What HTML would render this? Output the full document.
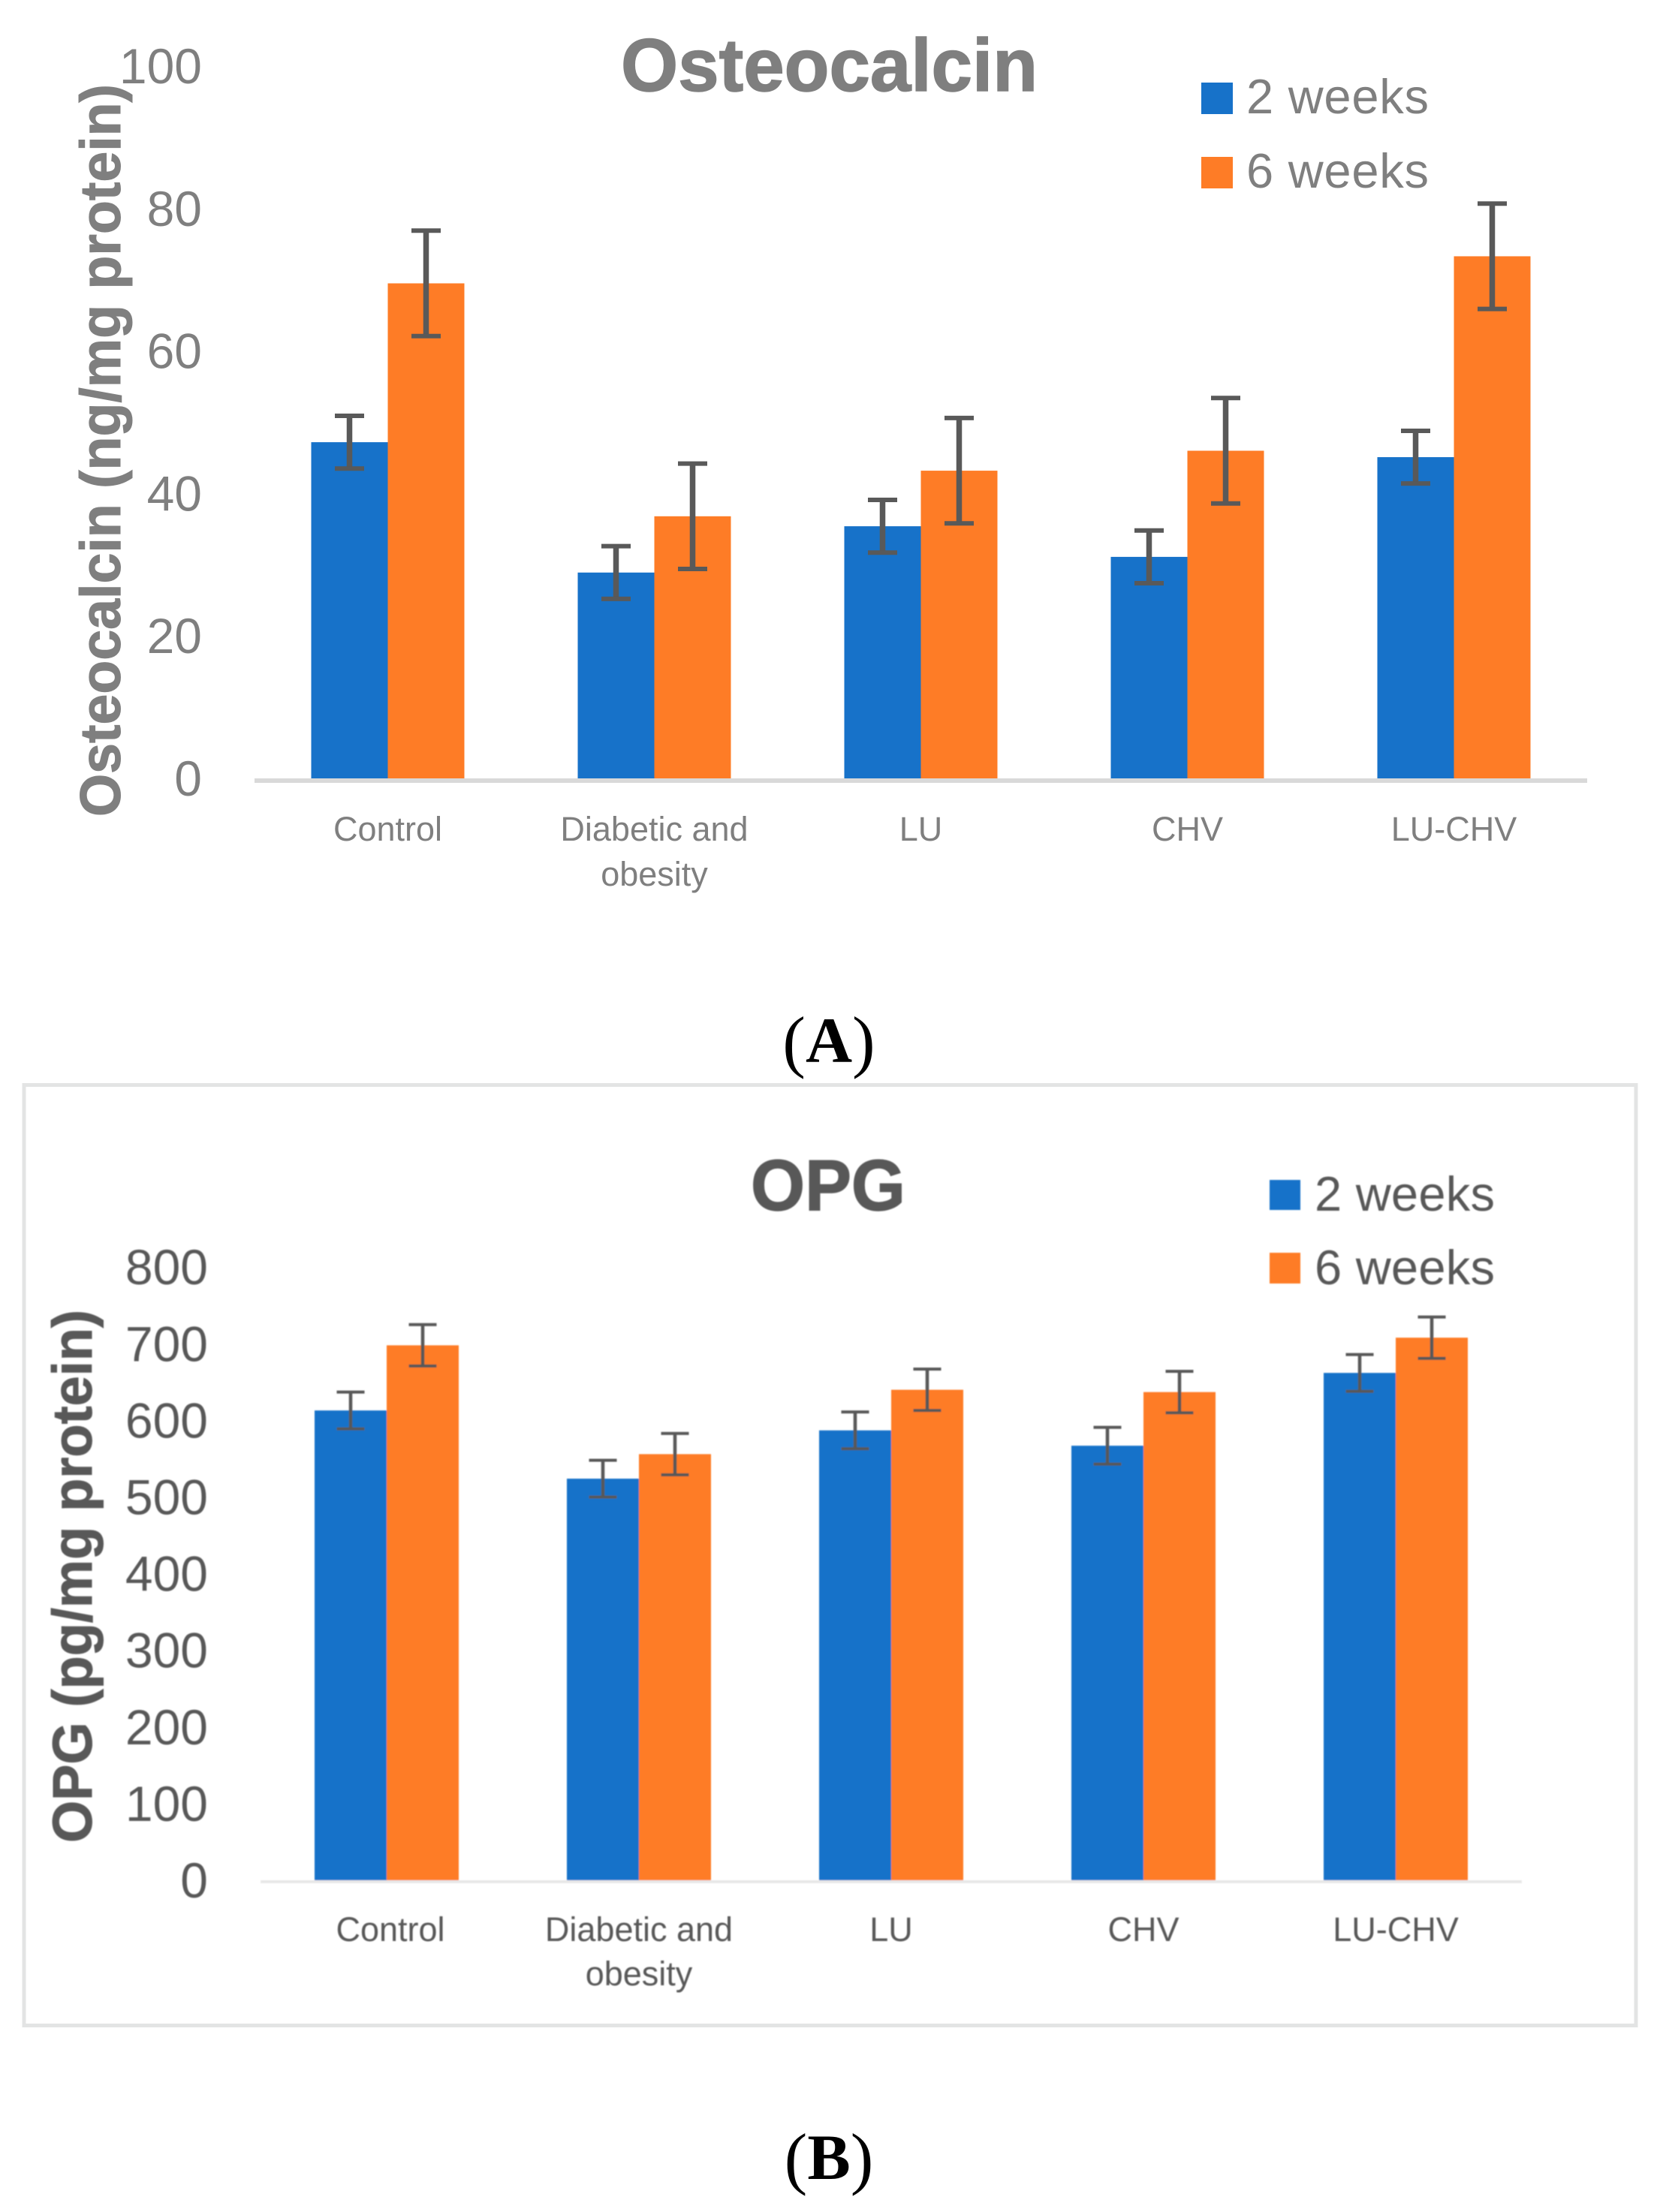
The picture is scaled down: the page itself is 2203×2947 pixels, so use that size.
<!DOCTYPE html>
<html lang="en">
<head>
<meta charset="utf-8">
<title>Osteocalcin and OPG bar charts</title>
<style>
html,body{margin:0;padding:0;background:#fff;width:2203px;height:2947px;overflow:hidden}
svg{display:block}
text{font-family:"Liberation Sans",sans-serif}
.cap{font-family:"Liberation Serif",serif;font-size:92px;fill:#000;text-anchor:middle}
</style>
</head>
<body>
<svg id="figure" xmlns="http://www.w3.org/2000/svg" width="2203" height="2947" viewBox="0 0 2203 2947">
  <defs><filter id="soft" x="-2%" y="-2%" width="104%" height="104%"><feGaussianBlur stdDeviation="0.8"/></filter></defs>
  <rect x="0" y="0" width="2203" height="2947" fill="#fff"/>
  <g id="chartA">
    <text x="827" y="121" font-size="99" font-weight="700" fill="#7f7f7f" stroke="#7f7f7f" stroke-width="1.5" textLength="555" lengthAdjust="spacingAndGlyphs">Osteocalcin</text>
    <text transform="translate(160 600) rotate(-90)" text-anchor="middle" font-size="76" font-weight="700" fill="#7f7f7f" stroke="#7f7f7f" stroke-width="1" textLength="976" lengthAdjust="spacingAndGlyphs">Osteocalcin (ng/mg protein)</text>
    <rect x="1600" y="110" width="42" height="42" fill="#1772c9"/>
    <text x="1660" y="151" font-size="65" fill="#7f7f7f" textLength="243" lengthAdjust="spacing">2 weeks</text>
    <rect x="1600" y="209" width="42" height="42" fill="#fe7c26"/>
    <text x="1660" y="250" font-size="65" fill="#7f7f7f" textLength="243" lengthAdjust="spacing">6 weeks</text>
  </g>
  <text class="cap" x="1104" y="1418">(<tspan font-weight="700" font-size="86" dy="-3">A</tspan><tspan dy="3">)</tspan></text>
  <rect x="32" y="1445.5" width="2147" height="1253" fill="none" stroke="#e3e4e4" stroke-width="5"/>
  <g id="chartB" filter="url(#soft)">
    <text x="1000" y="1612" font-size="96" font-weight="700" fill="#595959" stroke="#595959" stroke-width="1.5" textLength="206" lengthAdjust="spacingAndGlyphs">OPG</text>
    <text transform="translate(122 2100) rotate(-90)" text-anchor="middle" font-size="74" font-weight="700" fill="#595959" stroke="#595959" stroke-width="1" textLength="710" lengthAdjust="spacingAndGlyphs">OPG (pg/mg protein)</text>
    <rect x="1691" y="1572" width="41" height="40" fill="#1772c9"/>
    <text x="1751" y="1613" font-size="65" fill="#595959" textLength="240" lengthAdjust="spacing">2 weeks</text>
    <rect x="1691" y="1669" width="41" height="41" fill="#fe7c26"/>
    <text x="1751" y="1711" font-size="65" fill="#595959" textLength="240" lengthAdjust="spacing">6 weeks</text>
  </g>
  <text class="cap" x="1104" y="2906">(<tspan font-weight="700" font-size="86" dy="-3">B</tspan><tspan dy="3">)</tspan></text>
</svg>
<script>
const categoryLines = [["Control"], ["Diabetic and", "obesity"], ["LU"], ["CHV"], ["LU-CHV"]];

const osteoTicks = [0, 20, 40, 60, 80, 100];
const osteoWeek2 = [47.3, 29.0, 35.5, 31.2, 45.2];
const osteoWeek6 = [69.6, 36.9, 43.3, 46.1, 73.4];
const osteoErrWeek2 = [3.7, 3.7, 3.7, 3.7, 3.7];
const osteoErrWeek6 = [7.4, 7.4, 7.4, 7.4, 7.4];

const opgTicks = [0, 100, 200, 300, 400, 500, 600, 700, 800];
const opgWeek2 = [613, 524, 587, 567, 662];
const opgWeek6 = [698, 556, 640, 637, 708];
const opgErrWeek2 = [24, 24, 24, 24, 24];
const opgErrWeek6 = [27, 27, 27, 27, 27];

const NS = 'http://www.w3.org/2000/svg';
const BLUE = '#1772c9';
const ORANGE = '#fe7c26';

function make(parent, tag, attrs, text) {
  const el = document.createElementNS(NS, tag);
  for (const k in attrs) el.setAttribute(k, attrs[k]);
  if (text !== undefined) el.textContent = text;
  parent.appendChild(el);
  return el;
}

function drawChart(parent, cfg, week2, week6, err2, err6, ticks) {
  const yScale = v => cfg.y0 - v * cfg.pxPerUnit;
  const band = (cfg.axisRight - cfg.axisLeft) / categoryLines.length;
  const xCenter = i => cfg.axisLeft + band * (i + 0.5);

  ticks.forEach(t => {
    const label = make(parent, 'text', {
      x: cfg.tickRight, y: yScale(t) + cfg.tickBaseline,
      'text-anchor': 'end', 'font-size': 66, fill: cfg.textColor
    }, String(t));
    
    
  });

  const seriesList = [
    { name: '2-weeks', values: week2, errors: err2, color: BLUE, side: -1 },
    { name: '6-weeks', values: week6, errors: err6, color: ORANGE, side: 0 }
  ];

  seriesList.forEach(s => {
    s.values.forEach((v, i) => {
      const left = xCenter(i) + s.side * cfg.barWidth;
      const bar = make(parent, 'rect', {
        x: left, y: yScale(v), width: cfg.barWidth, height: cfg.y0 - yScale(v), fill: s.color
      });
      
      
    });
  });

  const axis = make(parent, 'rect', {
    x: cfg.axisLeft, y: cfg.axisY - cfg.axisThick / 2,
    width: cfg.axisRight - cfg.axisLeft, height: cfg.axisThick, fill: cfg.axisColor
  });
  
  

  seriesList.forEach(s => {
    s.values.forEach((v, i) => {
      const cx = xCenter(i) + s.side * cfg.barWidth + cfg.barWidth / 2;
      const hi = yScale(v + s.errors[i]);
      const lo = yScale(v - s.errors[i]);
      const attrs = { stroke: '#595959', fill: 'none' };
      const g = make(parent, 'g', attrs);
      
      
      make(g, 'line', { x1: cx, x2: cx, y1: hi, y2: lo, 'stroke-width': cfg.stemWidth });
      make(g, 'line', { x1: cx - cfg.capWidth / 2, x2: cx + cfg.capWidth / 2, y1: hi, y2: hi, 'stroke-width': cfg.capThick });
      make(g, 'line', { x1: cx - cfg.capWidth / 2, x2: cx + cfg.capWidth / 2, y1: lo, y2: lo, 'stroke-width': cfg.capThick });
    });
  });

  categoryLines.forEach((lines, i) => {
    const cx = xCenter(i) + (i === 0 ? cfg.firstLabelShift : 0);
    lines.forEach((line, j) => {
      const label = make(parent, 'text', {
        x: cx, y: cfg.catBaseline + j * cfg.catLeading,
        'text-anchor': 'middle', 'font-size': 45, fill: cfg.textColor
      }, line);
      
      
    });
  });
}

drawChart(document.getElementById('chartA'), {
  y0: 1038, pxPerUnit: 9.49, tickBaseline: 22, tickRight: 269,
  axisLeft: 339, axisRight: 2114, axisY: 1040, axisThick: 6, axisColor: '#d9d9d9',
  barWidth: 102, stemWidth: 7.5, capWidth: 39, capThick: 6,
  catBaseline: 1120, catLeading: 60, textColor: '#7f7f7f', firstLabelShift: 0
}, osteoWeek2, osteoWeek6, osteoErrWeek2, osteoErrWeek6, osteoTicks);

drawChart(document.getElementById('chartB'), {
  y0: 2505, pxPerUnit: 1.021, tickBaseline: 23, tickRight: 277,
  axisLeft: 347, axisRight: 2027, axisY: 2507, axisThick: 4, axisColor: '#e8e8e8',
  barWidth: 96, stemWidth: 4.5, capWidth: 37, capThick: 4,
  catBaseline: 2586, catLeading: 59, textColor: '#595959', firstLabelShift: 5
}, opgWeek2, opgWeek6, opgErrWeek2, opgErrWeek6, opgTicks);
</script>
</body>
</html>
